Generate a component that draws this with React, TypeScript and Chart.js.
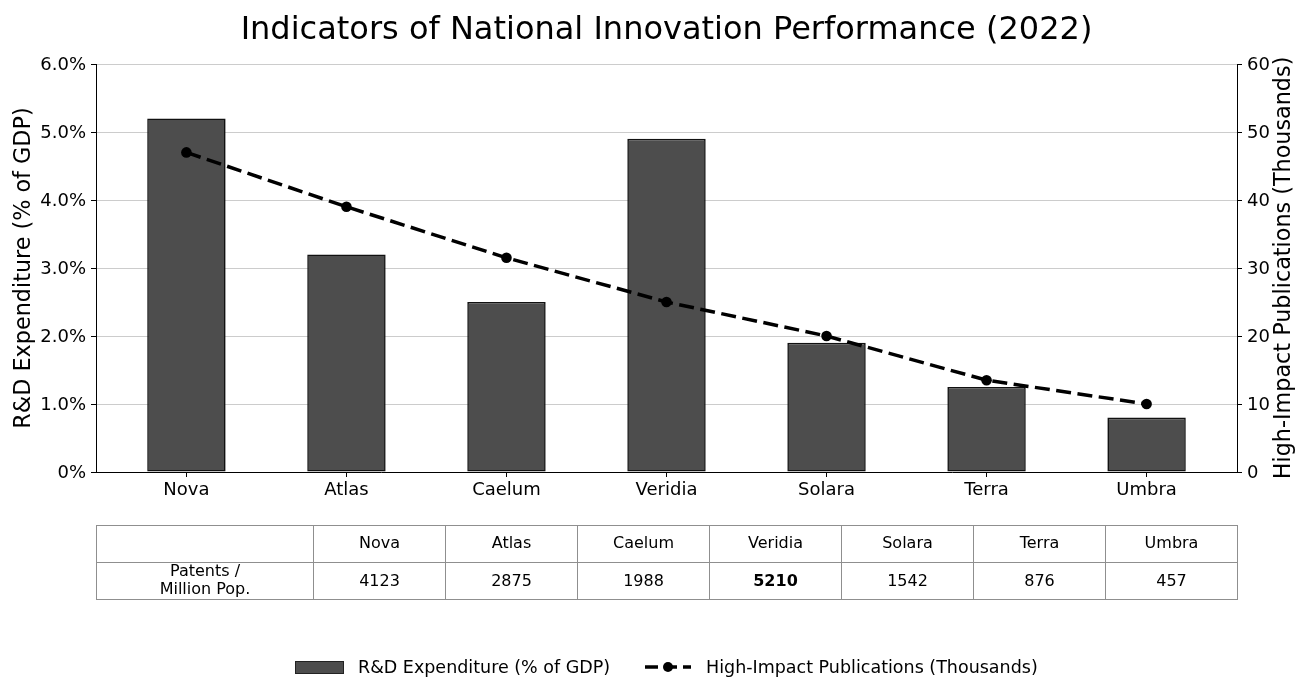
import { useEffect, useRef } from 'react'
import Chart, { type ChartConfiguration, type Plugin } from 'chart.js/auto'

const COUNTRIES = ['Nova', 'Atlas', 'Caelum', 'Veridia', 'Solara', 'Terra', 'Umbra']
const RD_SPEND = [5.2, 3.2, 2.5, 4.9, 1.9, 1.25, 0.8] // % of GDP
const PUBLICATIONS = [47, 39, 31.5, 25, 20, 13.5, 10] // thousands
const PATENTS = [4123, 2875, 1988, 5210, 1542, 876, 457] // per million pop.
const LEFT_TICKS = [0, 1, 2, 3, 4, 5, 6]
const RIGHT_TICKS = [0, 10, 20, 30, 40, 50, 60]

const FONT = '"DejaVu Sans", sans-serif'
const BAR = '#4d4d4d'
const GRID = '#cccccc'
const TITLE = 'Indicators of National Innovation Performance (2022)'
const LEFT_TITLE = 'R&D Expenditure (% of GDP)'
const RIGHT_TITLE = 'High-Impact Publications (Thousands)'

// 제목은 플롯 영역 중앙 기준, 오른쪽 축 제목도 아래→위로 읽히게 직접 그린다
const titles: Plugin = {
  id: 'titles',
  afterDraw(chart) {
    const { ctx, chartArea, scales } = chart
    const cx = (chartArea.left + chartArea.right) / 2
    const cy = (chartArea.top + chartArea.bottom) / 2
    ctx.save()
    ctx.fillStyle = '#000'
    ctx.textAlign = 'center'
    ctx.textBaseline = 'middle'
    ctx.font = `32px ${FONT}`
    ctx.fillText(TITLE, cx, 31)
    ctx.font = `22.3px ${FONT}`
    const draw = (x: number, text: string) => {
      ctx.save()
      ctx.translate(x, cy)
      ctx.rotate(-Math.PI / 2)
      ctx.fillText(text, 0, 0)
      ctx.restore()
    }
    draw(scales.y.left + 24, LEFT_TITLE)
    draw(scales.y2.right - 25, RIGHT_TITLE)
    ctx.restore()
  },
}

export default function App() {
  const canvasRef = useRef<HTMLCanvasElement>(null)

  useEffect(() => {
    const canvas = canvasRef.current
    if (!canvas) return
    const config = {
      type: 'bar',
      data: {
        datasets: [
          {
            type: 'line',
            label: RIGHT_TITLE,
            data: PUBLICATIONS.map((v, i) => ({ x: i, y: v })),
            yAxisID: 'y2',
            borderColor: '#000',
            backgroundColor: '#000',
            borderWidth: 3.5,
            borderDash: [15, 6.5],
            pointRadius: 5.3,
            pointBorderWidth: 0,
            pointBackgroundColor: '#000',
            order: 0,
          },
          {
            type: 'bar',
            label: LEFT_TITLE,
            data: RD_SPEND.map((v, i) => ({ x: i, y: v })),
            yAxisID: 'y',
            backgroundColor: BAR,
            borderColor: '#111',
            borderWidth: 1.6,
            borderSkipped: false,
            categoryPercentage: 1,
            barPercentage: 0.49,
            order: 1,
          },
        ],
      },
      options: {
        animation: false,
        responsive: true,
        maintainAspectRatio: false,
        layout: { padding: { left: 0, right: 0, top: 64, bottom: 197 } },
        plugins: {
          legend: { display: false },
          tooltip: { enabled: false },
          title: { display: false },
        },
        scales: {
          x: {
            type: 'linear',
            offset: false,
            min: -0.565,
            max: COUNTRIES.length - 1 + 0.565,
            afterBuildTicks: (s: any) => {
              s.ticks = COUNTRIES.map((_, i) => ({ value: i }))
            },
            afterFit: (s: any) => {
              s.height = 30
            },
            ticks: {
              color: '#000',
              font: { family: FONT, size: 18 },
              padding: 3,
              autoSkip: false,
              maxRotation: 0,
              callback: (v: number) => COUNTRIES[v] ?? '',
            },
            grid: { offset: false, drawOnChartArea: false, tickColor: '#000', tickLength: 5 },
            border: { color: '#000', width: 1 },
          },
          y: {
            position: 'left',
            min: 0,
            max: 6,
            afterBuildTicks: (s: any) => {
              s.ticks = LEFT_TICKS.map((value) => ({ value }))
            },
            afterFit: (s: any) => {
              s.width = 96
            },
            ticks: {
              color: '#000',
              font: { family: FONT, size: 18 },
              padding: 5,
              labelOffset: 1.5,
              callback: (v: number) => (v === 0 ? '0%' : `${v.toFixed(1)}%`),
            },
            grid: { color: GRID, lineWidth: 1, tickColor: '#000', tickLength: 5 },
            border: { color: '#000', width: 1 },
          },
          y2: {
            position: 'right',
            min: 0,
            max: 60,
            afterBuildTicks: (s: any) => {
              s.ticks = RIGHT_TICKS.map((value) => ({ value }))
            },
            afterFit: (s: any) => {
              s.width = 72
            },
            ticks: {
              color: '#000',
              font: { family: FONT, size: 18 },
              padding: 5,
              labelOffset: 1.5,
            },
            grid: { drawOnChartArea: false, tickColor: '#000', tickLength: 5 },
            border: { color: '#000', width: 1 },
          },
        },
      },
      plugins: [titles],
    } as unknown as ChartConfiguration

    const chart = new Chart(canvas, config)
    return () => chart.destroy()
  }, [])

  const maxPatents = Math.max(...PATENTS)
  const cell: React.CSSProperties = {
    border: '1px solid #8f8f8f',
    textAlign: 'center',
    verticalAlign: 'middle',
    padding: 0,
    height: 36,
  }
  const lift = (px: number): React.CSSProperties => ({ position: 'relative', top: -px })

  return (
    <div style={{ position: 'fixed', left: 0, top: 0, width: 1309, height: 699, background: '#fff', fontFamily: FONT }}>
      <canvas ref={canvasRef} />
      <table
        style={{
          position: 'absolute',
          left: 96,
          top: 525,
          width: 1141,
          borderCollapse: 'collapse',
          tableLayout: 'fixed',
          fontSize: 16,
          color: '#000',
        }}
      >
        <colgroup>
          <col style={{ width: 217 }} />
          {COUNTRIES.map((c) => (
            <col key={c} style={{ width: 132 }} />
          ))}
        </colgroup>
        <tbody>
          <tr>
            <td style={cell} />
            {COUNTRIES.map((c) => (
              <td key={c} style={cell}>
                <span style={lift(2)}>{c}</span>
              </td>
            ))}
          </tr>
          <tr>
            <td style={{ ...cell, lineHeight: '18px' }}>
              <span style={lift(1)}>
                Patents /<br />
                Million Pop.
              </span>
            </td>
            {PATENTS.map((p, i) => (
              <td key={COUNTRIES[i]} style={{ ...cell, fontWeight: p === maxPatents ? 'bold' : 'normal' }}>
                <span style={lift(1)}>{p}</span>
              </td>
            ))}
          </tr>
        </tbody>
      </table>
      <div style={{ position: 'absolute', left: 0, top: 655, width: 1309, height: 24, fontSize: 17.5, color: '#000' }}>
        <span style={{ position: 'absolute', left: 295, top: 6, width: 47, height: 11, background: BAR, border: '1px solid #222' }} />
        <span style={{ position: 'absolute', left: 358, top: 1, lineHeight: '22px', whiteSpace: 'nowrap' }}>{LEFT_TITLE}</span>
        <svg width={46} height={14} style={{ position: 'absolute', left: 645, top: 5 }}>
          <line x1={0} y1={7} x2={46} y2={7} stroke="#000" strokeWidth={3.5} strokeDasharray="13 6" />
          <circle cx={23} cy={7} r={5} fill="#000" />
        </svg>
        <span style={{ position: 'absolute', left: 706, top: 1, lineHeight: '22px', whiteSpace: 'nowrap' }}>{RIGHT_TITLE}</span>
      </div>
    </div>
  )
}
